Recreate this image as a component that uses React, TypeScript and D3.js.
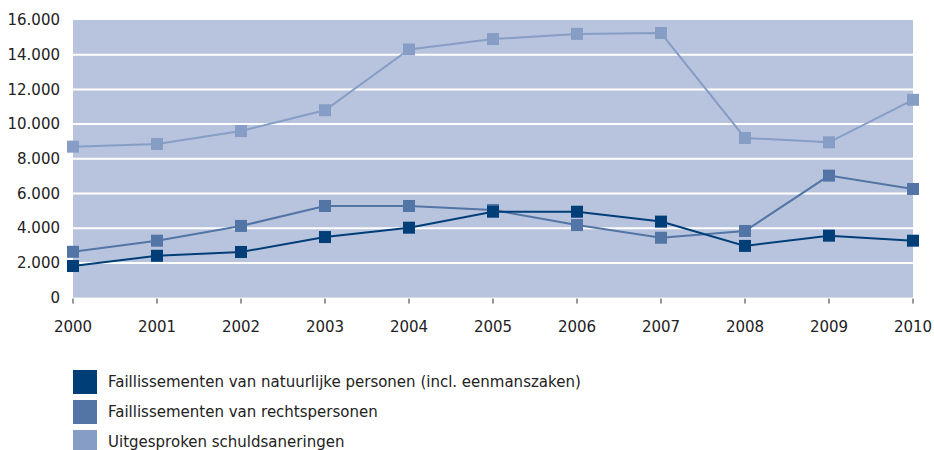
import React from "react";
import { scaleLinear, scalePoint, line } from "d3";

const years = ["2000", "2001", "2002", "2003", "2004", "2005", "2006", "2007", "2008", "2009", "2010"];
const natuurlijk = [1820, 2410, 2630, 3490, 4030, 4950, 4950, 4380, 2980, 3570, 3280];
const rechtspersonen = [2640, 3280, 4130, 5280, 5280, 5050, 4180, 3450, 3840, 7030, 6260];
const schuldsaneringen = [8700, 8850, 9600, 10800, 14300, 14900, 15200, 15250, 9200, 8950, 11400];
const yTicks = [0, 2000, 4000, 6000, 8000, 10000, 12000, 14000, 16000];
const seriesNames = [
  "Faillissementen van natuurlijke personen (incl. eenmanszaken)",
  "Faillissementen van rechtspersonen",
  "Uitgesproken schuldsaneringen",
];

const colors = ["#003e78", "#5275a6", "#869dc6"];
const font = "DejaVu Sans, Verdana, sans-serif";

const fmt = (v: number) => (v === 0 ? "0" : `${Math.floor(v / 1000)}.${String(v % 1000).padStart(3, "0")}`);

const App = () => {
  const width = 934;
  const height = 450;
  const left = 73;
  const right = 913;
  const top = 20;
  const bottom = 297.6;

  const x = scalePoint<string>().domain(years).range([left, right]);
  const y = scaleLinear().domain([0, 16000]).range([bottom, top]);

  const path = line<number>()
    .x((_, i) => x(years[i]) as number)
    .y((d) => y(d));

  const all = [natuurlijk, rechtspersonen, schuldsaneringen];
  // draw the light series first so the dark one sits on top
  const order = [2, 1, 0];

  return (
    <svg
      width={width}
      height={height}
      viewBox={`0 0 ${width} ${height}`}
      style={{ position: "absolute", left: 0, top: 0 }}
    >
      <rect x={left} y={top} width={right - left} height={bottom - top} fill="#b8c4dd" />
      {yTicks.filter((t) => t > 0 && t < 16000).map((t) => (
        <line key={t} x1={left} x2={right} y1={y(t)} y2={y(t)} stroke="#fff" strokeWidth={2} />
      ))}
      {yTicks.map((t) => (
        <text
          key={t}
          x={60}
          y={y(t)}
          dy="0.35em"
          textAnchor="end"
          fontFamily={font}
          fontSize={15}
          fill="#222"
        >
          {fmt(t)}
        </text>
      ))}
      {years.map((yr) => (
        <g key={yr}>
          <line
            x1={x(yr)}
            x2={x(yr)}
            y1={bottom + 1}
            y2={bottom + 6}
            stroke="#333"
            strokeWidth={1}
          />
          <text
            x={x(yr)}
            y={332}
            textAnchor="middle"
            fontFamily={font}
            fontSize={15}
            fill="#222"
          >
            {yr}
          </text>
        </g>
      ))}
      {order.map((s) => (
        <g key={s}>
          <path d={path(all[s]) || ""} fill="none" stroke={colors[s]} strokeWidth={2} />
          {all[s].map((v, i) => (
            <rect
              key={i}
              x={(x(years[i]) as number) - 6}
              y={y(v) - 6}
              width={12}
              height={12}
              fill={colors[s]}
            />
          ))}
        </g>
      ))}
      {seriesNames.map((name, i) => (
        <g key={name} transform={`translate(73, ${370 + i * 30})`}>
          <rect width={24} height={24} fill={colors[i]} />
          <text x={35} y={12} dy="0.35em" fontFamily={font} fontSize={15} fill="#222">
            {name}
          </text>
        </g>
      ))}
    </svg>
  );
};

export default App;
